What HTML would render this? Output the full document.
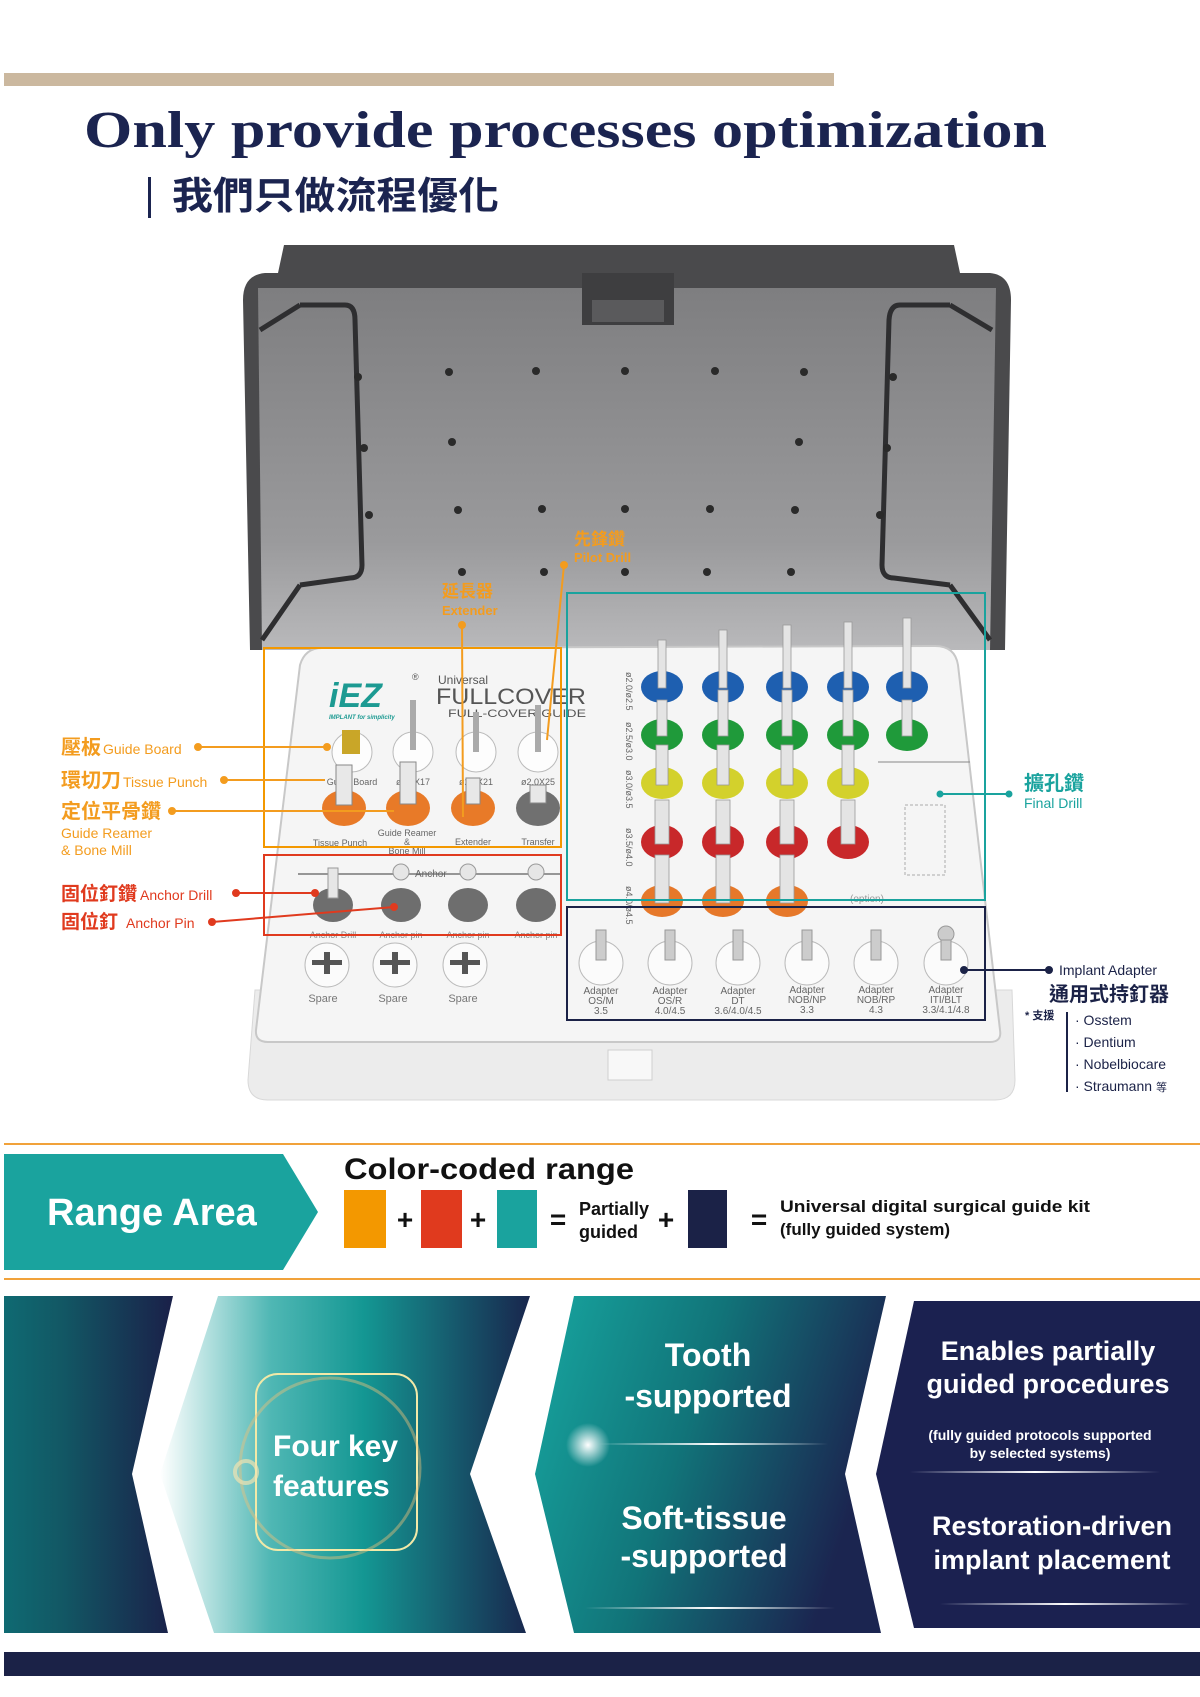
<!DOCTYPE html>
<html><head><meta charset="utf-8"><style>
html,body{margin:0;padding:0;background:#fff}
svg{display:block}
text{font-family:"Liberation Sans","Noto Sans CJK TC",sans-serif}
</style></head><body>
<svg width="1200" height="1697" viewBox="0 0 1200 1697" xmlns="http://www.w3.org/2000/svg">
<defs>
<linearGradient id="lidg" x1="0" y1="0" x2="0" y2="1"><stop offset="0" stop-color="#7e7e80"/><stop offset="0.7" stop-color="#9a9a9c"/><stop offset="1" stop-color="#b9b9bb"/></linearGradient>
<linearGradient id="p1" x1="0" y1="0" x2="1" y2="0"><stop offset="0" stop-color="#0f6a72"/><stop offset="0.35" stop-color="#125764"/><stop offset="1" stop-color="#1a2049"/></linearGradient>
<linearGradient id="p2" x1="0" y1="0" x2="1" y2="0"><stop offset="0" stop-color="#ffffff"/><stop offset="0.3" stop-color="#4fb7b4"/><stop offset="0.55" stop-color="#149793"/><stop offset="1" stop-color="#18264d"/></linearGradient>
<linearGradient id="p3" x1="0" y1="0" x2="1" y2="0.3"><stop offset="0" stop-color="#17a6a0"/><stop offset="0.5" stop-color="#117479"/><stop offset="1" stop-color="#1b2550"/></linearGradient>
<radialGradient id="glow" cx="0.5" cy="0.5" r="0.5"><stop offset="0" stop-color="#fff" stop-opacity="1"/><stop offset="1" stop-color="#fff" stop-opacity="0"/></radialGradient>
<linearGradient id="lineg" x1="0" x2="1"><stop offset="0" stop-color="#fff" stop-opacity="0"/><stop offset="0.5" stop-color="#fff"/><stop offset="1" stop-color="#fff" stop-opacity="0"/></linearGradient>
</defs>

<!-- Header -->
<rect x="4" y="73" width="830" height="13" fill="#cbb89f"/>
<text x="84" y="147" style="font-family:'Liberation Serif',serif" font-weight="bold" font-size="52" fill="#1b2450" textLength="963" lengthAdjust="spacingAndGlyphs">Only provide processes optimization</text>
<rect x="148" y="177" width="3" height="41" fill="#1b2450"/>
<text x="172" y="209" font-weight="bold" font-size="38" fill="#1b2450" textLength="327" lengthAdjust="spacingAndGlyphs">我們只做流程優化</text>

<!-- Lid -->
<path d="M284 245 L954 245 L960 273 L990 273 Q1011 275 1011 300 L1005 650 L250 650 L243 300 Q243 275 265 273 L278 273 Z" fill="#4a4a4c"/>
<path d="M258 288 L996 288 L990 650 L262 650 Z" fill="url(#lidg)"/>
<rect x="582" y="273" width="92" height="52" fill="#3e3e40"/>
<rect x="592" y="300" width="72" height="22" fill="#5a5a5c"/>
<path d="M300 305 L345 305 Q355 305 355 320 L362 565 Q362 578 350 578 L300 585" fill="none" stroke="#2e2e30" stroke-width="5"/>
<path d="M260 330 L300 305 M262 640 L300 585" fill="none" stroke="#2e2e30" stroke-width="5"/>
<path d="M950 305 L900 305 Q890 305 889 320 L882 565 Q882 578 894 578 L950 585" fill="none" stroke="#2e2e30" stroke-width="5"/>
<path d="M992 330 L950 305 M990 640 L950 585" fill="none" stroke="#2e2e30" stroke-width="5"/>
<g fill="#2a2a2a">
<circle cx="358" cy="377" r="4"/><circle cx="449" cy="372" r="4"/><circle cx="536" cy="371" r="4"/><circle cx="625" cy="371" r="4"/><circle cx="715" cy="371" r="4"/><circle cx="804" cy="372" r="4"/><circle cx="893" cy="377" r="4"/>
<circle cx="364" cy="448" r="4"/><circle cx="452" cy="442" r="4"/><circle cx="799" cy="442" r="4"/><circle cx="887" cy="448" r="4"/>
<circle cx="369" cy="515" r="4"/><circle cx="458" cy="510" r="4"/><circle cx="542" cy="509" r="4"/><circle cx="625" cy="509" r="4"/><circle cx="710" cy="509" r="4"/><circle cx="795" cy="510" r="4"/><circle cx="880" cy="515" r="4"/>
<circle cx="462" cy="572" r="4"/><circle cx="544" cy="572" r="4"/><circle cx="625" cy="572" r="4"/><circle cx="707" cy="572" r="4"/><circle cx="791" cy="572" r="4"/>
</g>

<!-- Box base -->
<path d="M255 990 L1012 990 L1015 1080 Q1015 1100 995 1100 L268 1100 Q248 1100 248 1080 Z" fill="#ececec" stroke="#d8d8d8"/>
<rect x="608" y="1050" width="44" height="30" fill="#f8f8f8" stroke="#cfcfcf"/>
<!-- Tray -->
<path d="M322 648 L935 646 Q955 646 958 665 L1000 1030 Q1002 1042 990 1042 L268 1042 Q255 1042 256 1030 L300 665 Q305 648 322 648 Z" fill="#f5f5f5" stroke="#c8c8c8" stroke-width="2"/>

<!-- Logo -->
<text x="329" y="707" font-weight="bold" font-style="italic" font-size="34" fill="#1c9a92">iEZ</text>
<text x="329" y="719" font-weight="bold" font-style="italic" font-size="6" fill="#1c9a92">IMPLANT for simplicity</text>
<text x="412" y="680" font-size="9" fill="#555">®</text>
<text x="438" y="684" font-size="12" fill="#555">Universal</text>
<text x="436" y="704" font-size="22" fill="#555" textLength="150" lengthAdjust="spacingAndGlyphs">FULLCOVER</text>
<text x="448" y="717" font-size="11" fill="#555" textLength="138" lengthAdjust="spacingAndGlyphs">FULL-COVER GUIDE</text>

<!-- Orange section items -->
<g stroke="#bbb" fill="#fdfdfd">
<circle cx="352" cy="752" r="20"/><circle cx="413" cy="752" r="20"/><circle cx="476" cy="752" r="20"/><circle cx="538" cy="752" r="20"/>
</g>
<rect x="342" y="730" width="18" height="24" fill="#c9a628"/>
<g fill="#aaa"><rect x="410" y="700" width="6" height="50"/><rect x="473" y="712" width="6" height="40"/><rect x="535" y="705" width="6" height="47"/></g>
<g font-size="9" fill="#666" text-anchor="middle"><text x="352" y="785">Guide Board</text><text x="413" y="785">ø2.0X17</text><text x="476" y="785">ø2.0X21</text><text x="538" y="785">ø2.0X25</text></g>
<g><ellipse cx="344" cy="808" rx="22" ry="18" fill="#e87a28"/><ellipse cx="408" cy="808" rx="22" ry="18" fill="#e87a28"/><ellipse cx="473" cy="808" rx="22" ry="18" fill="#e87a28"/><ellipse cx="538" cy="808" rx="22" ry="18" fill="#707070"/></g>
<g fill="#e8e8e8" stroke="#888"><rect x="336" y="765" width="16" height="40"/><rect x="400" y="762" width="16" height="42"/><rect x="466" y="778" width="14" height="26"/><rect x="530" y="785" width="16" height="18"/></g>
<g font-size="9" fill="#666" text-anchor="middle"><text x="340" y="846">Tissue Punch</text><text x="407" y="836">Guide Reamer</text><text x="407" y="845">&amp;</text><text x="407" y="854">Bone Mill</text><text x="473" y="845">Extender</text><text x="538" y="845">Transfer</text></g>
<!-- Anchor row -->
<line x1="298" y1="874" x2="561" y2="874" stroke="#777" stroke-width="1.5"/>
<text x="415" y="877" font-size="10" fill="#666">Anchor</text>
<g fill="#6e6e6e"><ellipse cx="333" cy="905" rx="20" ry="17"/><ellipse cx="401" cy="905" rx="20" ry="17"/><ellipse cx="468" cy="905" rx="20" ry="17"/><ellipse cx="536" cy="905" rx="20" ry="17"/></g>
<g fill="#e6e6e6" stroke="#999"><rect x="328" y="868" width="10" height="30"/><circle cx="401" cy="872" r="8"/><circle cx="468" cy="872" r="8"/><circle cx="536" cy="872" r="8"/></g>
<g font-size="9" fill="#888" text-anchor="middle"><text x="333" y="938">Anchor Drill</text><text x="401" y="938">Anchor pin</text><text x="468" y="938">Anchor pin</text><text x="536" y="938">Anchor pin</text></g>
<!-- Spares -->
<g fill="#fbfbfb" stroke="#bbb"><circle cx="327" cy="965" r="22"/><circle cx="395" cy="965" r="22"/><circle cx="465" cy="965" r="22"/></g>
<g fill="#555"><rect x="312" y="960" width="30" height="5"/><rect x="324" y="952" width="6" height="22"/><rect x="380" y="960" width="30" height="5"/><rect x="392" y="952" width="6" height="22"/><rect x="450" y="960" width="30" height="5"/><rect x="462" y="952" width="6" height="22"/></g>
<g font-size="11" fill="#777" text-anchor="middle"><text x="323" y="1002">Spare</text><text x="393" y="1002">Spare</text><text x="463" y="1002">Spare</text></g>

<!-- Drill grid -->
<g font-size="9" fill="#666">
<text transform="translate(626,672) rotate(90)">ø2.0/ø2.5</text>
<text transform="translate(626,722) rotate(90)">ø2.5/ø3.0</text>
<text transform="translate(626,770) rotate(90)">ø3.0/ø3.5</text>
<text transform="translate(626,828) rotate(90)">ø3.5/ø4.0</text>
<text transform="translate(626,886) rotate(90)">ø4.0/ø4.5</text>
</g>
<g>
<g fill="#1e5fb0"><ellipse cx="662" cy="687" rx="21" ry="16"/><ellipse cx="723" cy="687" rx="21" ry="16"/><ellipse cx="787" cy="687" rx="21" ry="16"/><ellipse cx="848" cy="687" rx="21" ry="16"/><ellipse cx="907" cy="687" rx="21" ry="16"/></g>
<g fill="#1f9a3a"><ellipse cx="662" cy="735" rx="21" ry="16"/><ellipse cx="723" cy="735" rx="21" ry="16"/><ellipse cx="787" cy="735" rx="21" ry="16"/><ellipse cx="848" cy="735" rx="21" ry="16"/><ellipse cx="907" cy="735" rx="21" ry="16"/></g>
<g fill="#d3d12c"><ellipse cx="662" cy="783" rx="21" ry="16"/><ellipse cx="723" cy="783" rx="21" ry="16"/><ellipse cx="787" cy="783" rx="21" ry="16"/><ellipse cx="848" cy="783" rx="21" ry="16"/></g>
<g fill="#c8282a"><ellipse cx="662" cy="842" rx="21" ry="17"/><ellipse cx="723" cy="842" rx="21" ry="17"/><ellipse cx="787" cy="842" rx="21" ry="17"/><ellipse cx="848" cy="842" rx="21" ry="17"/></g>
<g fill="#e6782a"><ellipse cx="662" cy="901" rx="21" ry="16"/><ellipse cx="723" cy="901" rx="21" ry="16"/><ellipse cx="787" cy="901" rx="21" ry="16"/></g>
<g fill="#e4e4e4" stroke="#999" stroke-width="0.8">
<rect x="658" y="640" width="8" height="48"/><rect x="719" y="630" width="8" height="58"/><rect x="783" y="625" width="8" height="63"/><rect x="844" y="622" width="8" height="66"/><rect x="903" y="618" width="8" height="70"/>
<rect x="657" y="700" width="10" height="36"/><rect x="718" y="690" width="10" height="46"/><rect x="782" y="690" width="10" height="46"/><rect x="843" y="690" width="10" height="46"/><rect x="902" y="700" width="10" height="36"/>
<rect x="656" y="745" width="12" height="40"/><rect x="717" y="745" width="12" height="40"/><rect x="781" y="745" width="12" height="40"/><rect x="842" y="745" width="12" height="40"/>
<rect x="655" y="800" width="14" height="44"/><rect x="716" y="800" width="14" height="44"/><rect x="780" y="800" width="14" height="44"/><rect x="841" y="800" width="14" height="44"/>
<rect x="655" y="855" width="14" height="48"/><rect x="716" y="855" width="14" height="48"/><rect x="780" y="855" width="14" height="48"/>
</g>
</g>
<line x1="878" y1="762" x2="970" y2="762" stroke="#888"/>
<rect x="905" y="805" width="40" height="70" fill="none" stroke="#aaa" stroke-dasharray="3 2"/>
<text x="850" y="902" font-size="10" fill="#999">(option)</text>

<!-- Adapters -->
<g fill="#fbfbfb" stroke="#bbb"><circle cx="601" cy="963" r="22"/><circle cx="670" cy="963" r="22"/><circle cx="738" cy="963" r="22"/><circle cx="807" cy="963" r="22"/><circle cx="876" cy="963" r="22"/><circle cx="946" cy="963" r="22"/></g>
<g fill="#ccc" stroke="#999"><rect x="596" y="930" width="10" height="30"/><rect x="665" y="930" width="10" height="30"/><rect x="733" y="930" width="10" height="30"/><rect x="802" y="930" width="10" height="30"/><rect x="871" y="930" width="10" height="30"/><circle cx="946" cy="934" r="8"/><rect x="941" y="940" width="10" height="20"/></g>
<g font-size="10" fill="#666" text-anchor="middle">
<text x="601" y="994">Adapter</text><text x="601" y="1004">OS/M</text><text x="601" y="1014">3.5</text>
<text x="670" y="994">Adapter</text><text x="670" y="1004">OS/R</text><text x="670" y="1014">4.0/4.5</text>
<text x="738" y="994">Adapter</text><text x="738" y="1004">DT</text><text x="738" y="1014">3.6/4.0/4.5</text>
<text x="807" y="993">Adapter</text><text x="807" y="1003">NOB/NP</text><text x="807" y="1013">3.3</text>
<text x="876" y="993">Adapter</text><text x="876" y="1003">NOB/RP</text><text x="876" y="1013">4.3</text>
<text x="946" y="993">Adapter</text><text x="946" y="1003">ITI/BLT</text><text x="946" y="1013">3.3/4.1/4.8</text>
</g>

<!-- Boxes -->
<rect x="264" y="648" width="297" height="199" fill="none" stroke="#f39800" stroke-width="2"/>
<rect x="264" y="855" width="297" height="80" fill="none" stroke="#e03a1e" stroke-width="2"/>
<rect x="567" y="593" width="418" height="307" fill="none" stroke="#1aa39e" stroke-width="2"/>
<rect x="567" y="907" width="418" height="113" fill="none" stroke="#1b2247" stroke-width="2"/>

<!-- Pilot / Extender labels -->
<g fill="#f39c1f" font-weight="bold">
<text x="574" y="545" font-size="17">先鋒鑽</text>
<text x="574" y="562" font-size="13">Pilot Drill</text>
<text x="442" y="597" font-size="17">延長器</text>
<text x="442" y="615" font-size="13">Extender</text>
</g>
<g stroke="#f39c1f" stroke-width="2" fill="#f39c1f">
<line x1="564" y1="565" x2="547" y2="740"/><circle cx="564" cy="565" r="3"/>
<line x1="462" y1="625" x2="463" y2="817"/><circle cx="462" cy="625" r="3"/>
</g>

<!-- Left labels -->
<g fill="#f39c1f" font-weight="bold">
<text x="61" y="754"><tspan font-size="20">壓板</tspan><tspan font-size="14" font-weight="normal" dx="2">Guide Board</tspan></text>
<text x="61" y="787"><tspan font-size="20">環切刀</tspan><tspan font-size="14" font-weight="normal" dx="2">Tissue Punch</tspan></text>
<text x="61" y="818" font-size="20">定位平骨鑽</text>
<text x="61" y="838" font-size="14" font-weight="normal">Guide Reamer</text>
<text x="61" y="855" font-size="14" font-weight="normal">&amp; Bone Mill</text>
</g>
<g stroke="#f39c1f" stroke-width="2" fill="#f39c1f">
<line x1="198" y1="747" x2="327" y2="747"/><circle cx="198" cy="747" r="3"/><circle cx="327" cy="747" r="3"/>
<line x1="224" y1="780" x2="325" y2="780"/><circle cx="224" cy="780" r="3"/>
<line x1="172" y1="811" x2="394" y2="811"/><circle cx="172" cy="811" r="3"/>
</g>
<g fill="#e03a1e" font-weight="bold">
<text x="61" y="900"><tspan font-size="19">固位釘鑽</tspan><tspan font-size="14" font-weight="normal" dx="3">Anchor Drill</tspan></text>
<text x="61" y="928"><tspan font-size="19">固位釘</tspan><tspan font-size="14" font-weight="normal" dx="8">Anchor Pin</tspan></text>
</g>
<g stroke="#e03a1e" stroke-width="2" fill="#e03a1e">
<line x1="236" y1="893" x2="315" y2="893"/><circle cx="236" cy="893" r="3"/><circle cx="315" cy="893" r="3"/>
<line x1="212" y1="922" x2="394" y2="907"/><circle cx="212" cy="922" r="3"/><circle cx="394" cy="907" r="3"/>
</g>

<!-- Right labels -->
<g stroke="#1aa39e" stroke-width="2" fill="#1aa39e"><line x1="940" y1="794" x2="1009" y2="794"/><circle cx="940" cy="794" r="2.5"/><circle cx="1009" cy="794" r="2.5"/></g>
<text x="1024" y="790" font-size="20" font-weight="bold" fill="#1aa39e">擴孔鑽</text>
<text x="1024" y="808" font-size="14" fill="#1aa39e">Final Drill</text>
<g stroke="#1b2247" stroke-width="2" fill="#1b2247"><line x1="964" y1="970" x2="1049" y2="970"/><circle cx="964" cy="970" r="3"/><circle cx="1049" cy="970" r="3"/></g>
<text x="1059" y="975" font-size="14" fill="#1b2247">Implant Adapter</text>
<text x="1049" y="1001" font-size="20" font-weight="bold" fill="#1b2247">通用式持釘器</text>
<text x="1025" y="1019" font-size="11" font-weight="bold" fill="#1b2247">* 支援</text>
<line x1="1067" y1="1012" x2="1067" y2="1092" stroke="#1b2247" stroke-width="2"/>
<g font-size="14" fill="#1b2247"><text x="1075" y="1025">· Osstem</text><text x="1075" y="1047">· Dentium</text><text x="1075" y="1069">· Nobelbiocare</text><text x="1075" y="1091">· Straumann <tspan font-size="11">等</tspan></text></g>

<!-- Range area -->
<rect x="4" y="1143" width="1196" height="2" fill="#f1a23a"/>
<path d="M4 1154 L283 1154 L318 1212 L283 1270 L4 1270 Z" fill="#1aa39e"/>
<text x="47" y="1225" font-size="38" font-weight="bold" fill="#fff">Range Area</text>
<text x="344" y="1179" font-size="30" font-weight="bold" fill="#111" textLength="290" lengthAdjust="spacingAndGlyphs">Color-coded range</text>
<rect x="344" y="1190" width="42" height="58" fill="#f39800"/>
<rect x="421" y="1190" width="41" height="58" fill="#e03a1e"/>
<rect x="497" y="1190" width="40" height="58" fill="#1aa39e"/>
<rect x="688" y="1190" width="39" height="58" fill="#1b2247"/>
<g font-size="28" font-weight="bold" fill="#111" text-anchor="middle"><text x="405" y="1229">+</text><text x="478" y="1229">+</text><text x="558" y="1229">=</text><text x="666" y="1229">+</text><text x="759" y="1229">=</text></g>
<text x="579" y="1215" font-size="18" font-weight="bold" fill="#111">Partially</text>
<text x="579" y="1238" font-size="18" font-weight="bold" fill="#111">guided</text>
<text x="780" y="1212" font-size="17" font-weight="bold" fill="#111" textLength="310" lengthAdjust="spacingAndGlyphs">Universal digital surgical guide kit</text>
<text x="780" y="1235" font-size="17" font-weight="bold" fill="#111">(fully guided system)</text>
<rect x="4" y="1278" width="1196" height="2" fill="#f1a23a"/>

<!-- Panels -->
<path d="M4 1296 L173 1296 L132 1474 L168 1633 L4 1633 Z" fill="url(#p1)"/>
<path d="M218 1296 L530 1296 L470 1474 L526 1633 L214 1633 L160 1474 Z" fill="url(#p2)"/>
<rect x="256" y="1374" width="161" height="176" rx="22" fill="none" stroke="#f2e9a8" stroke-width="2"/>
<circle cx="330" cy="1468" r="90" fill="none" stroke="#e8c07a" stroke-width="3" opacity="0.45"/>
<circle cx="246" cy="1472" r="11" fill="none" stroke="#efe2b0" stroke-width="4" opacity="0.7"/>
<text x="273" y="1456" font-size="30" font-weight="bold" fill="#fff">Four key</text>
<text x="273" y="1496" font-size="30" font-weight="bold" fill="#fff">features</text>

<path d="M574 1296 L886 1296 L845 1474 L881 1633 L574 1633 L535 1474 Z" fill="url(#p3)"/>
<circle cx="588" cy="1445" r="22" fill="url(#glow)"/>
<rect x="598" y="1443" width="230" height="2" fill="url(#lineg)"/>
<rect x="585" y="1607" width="250" height="2" fill="url(#lineg)"/>
<g font-size="32" font-weight="bold" fill="#fff" text-anchor="middle">
<text x="708" y="1366">Tooth</text><text x="708" y="1407">-supported</text>
<text x="704" y="1529">Soft-tissue</text><text x="704" y="1567">-supported</text>
</g>

<path d="M914 1301 L1200 1301 L1200 1628 L914 1628 L876 1474 Z" fill="#1b2150"/>
<rect x="910" y="1471" width="250" height="2" fill="url(#lineg)"/>
<rect x="940" y="1603" width="250" height="2" fill="url(#lineg)"/>
<g font-weight="bold" fill="#fff" text-anchor="middle">
<text x="1048" y="1360" font-size="27">Enables partially</text>
<text x="1048" y="1393" font-size="27">guided procedures</text>
<text x="1040" y="1440" font-size="14">(fully guided protocols supported</text>
<text x="1040" y="1458" font-size="14">by selected systems)</text>
<text x="1052" y="1535" font-size="27">Restoration-driven</text>
<text x="1052" y="1569" font-size="27">implant placement</text>
</g>

<rect x="4" y="1652" width="1196" height="24" fill="#1b2247"/>
</svg>
</body></html>
